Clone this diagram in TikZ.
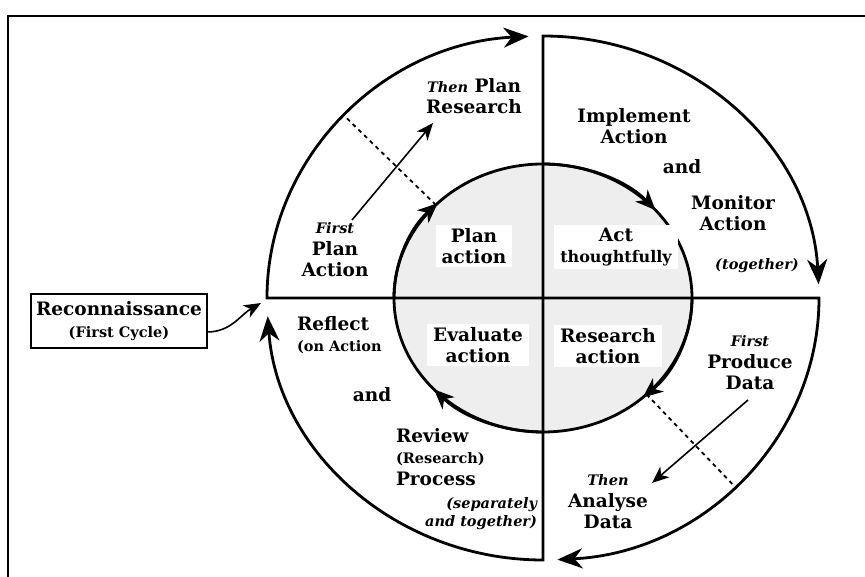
\documentclass[tikz,border=0pt]{standalone}
\usepackage{fontspec}
\setmainfont{DejaVu Serif}
\usetikzlibrary{arrows.meta,calc}
\definecolor{innerfill}{RGB}{238,238,238}
\newcommand{\bigf}{\fontsize{18.5}{21.5}\selectfont\bfseries}
\newcommand{\midf}{\fontsize{16}{19}\selectfont\bfseries}
\newcommand{\smallf}{\fontsize{14.5}{18}\selectfont\bfseries}
\def\rxo{276pt}
\def\ryo{262pt}
\def\rxi{149pt}
\def\ryi{134pt}
\tikzset{
    every node/.style = {
        inner sep = 0pt,
        outer sep = 0pt
    },
    lbl/.style = {
        align = center,
        font = \bigf
    },
    inlbl/.style = {
        lbl,
        fill = white,
        inner xsep = 6pt,
        inner ysep = 3pt
    },
    note/.style = {
        align = center,
        font = \smallf\itshape
    },
    reconbox/.style = {
        draw,
        line width = 1.3pt,
        align = center,
        font = \bigf,
        minimum width = 176pt,
        minimum height = 54pt
    },
    quarter/.style = {
        line width = 2.8pt,
        -{Stealth[length=25pt, width=20pt, inset=8pt]}
    },
    ring/.style = {
        line width = 2.8pt
    },
    ring arrow/.style = {
        line width = 2.8pt,
        -{Stealth[length=20pt, width=17pt, inset=6pt]}
    },
    trace/.style = {
        line width = 1.6pt,
        -{Stealth[length=17pt, width=14pt, inset=5pt]}
    },
    link/.style = {
        line width = 1.8pt,
        dash pattern = on 4pt off 4pt
    }
}

\begin{document}
\begin{tikzpicture}[x = 1pt, y = 1pt]
    \useasboundingbox (0,0) rectangle (865,577);
    \draw[line width = 1.2pt] (8,-10) -- (8,561) -- (880,561);
    \coordinate (C) at (543,279);
    \fill[innerfill] (C) ellipse [x radius = \rxi, y radius = \ryi];
    \draw[quarter] (C) -- ++(-\rxo,0) arc [start angle = 180, end angle = 93, x radius = \rxo, y radius = \ryo];
    \draw[quarter] (C) -- ++(0,\ryo) arc [start angle = 90, end angle = 3, x radius = \rxo, y radius = \ryo];
    \draw[quarter] (C) -- ++(\rxo,0) arc [start angle = 360, end angle = 273, x radius = \rxo, y radius = \ryo];
    \draw[quarter] (C) -- ++(0,-\ryo) arc [start angle = 270, end angle = 184, x radius = \rxo, y radius = \ryo];
    \draw[ring] (C) ellipse [x radius = \rxi, y radius = \ryi];
    \foreach \a/\b in {180/135, 90/41, 0/-48, 270/223}
        \draw[ring arrow] ($(C)+(\a:149pt and 134pt)$) arc [start angle = \a, end angle = \b, x radius = \rxi, y radius = \ryi];
    \coordinate (plan in) at ($(C)+(136:149pt and 134pt)$);
    \coordinate (plan out) at ($(C)+(136:276pt and 262pt)$);
    \coordinate (data in) at ($(C)+(-46:149pt and 134pt)$);
    \coordinate (data out) at ($(C)+(-46:276pt and 262pt)$);
    \draw[link] (plan in) -- (plan out);
    \draw[link] (data in) -- (data out);
    \node[inlbl] (plan) at (474,331) {Plan\\action};
    \node[inlbl] (act) at (616,330) {Act\\{\midf thoughtfully}};
    \node[inlbl] (evaluate) at (478,232) {Evaluate\\action};
    \node[inlbl] (research) at (608,231) {Research\\action};
    \node[lbl] (thenplan) at (474,481) {{\smallf\itshape Then} Plan\\Research};
    \node[lbl] (firstplan) at (335,327) {{\smallf\itshape First}\\Plan\\Action};
    \node[lbl] (implement) at (634,451) {Implement\\Action};
    \node[lbl] (and top) at (682,410) {and};
    \node[lbl] (monitor) at (733,364) {Monitor\\Action};
    \node[note] (together) at (757,311) {(together)};
    \node[reconbox] (recon) at (119,256) {Reconnaissance\\{\smallf (First Cycle)}};
    \node[lbl, align = left, anchor = west] (reflect) at (297,242) {Reflect\\{\smallf (on Action}};
    \node[lbl] (and low) at (372,182) {and};
    \node[lbl, align = left, anchor = west] (review) at (396,120) {Review\\{\smallf (Research)}\\Process};
    \node[note, align = right, anchor = east] (separately) at (537,63) {(separately\\and together)};
    \node[lbl] (firstprod) at (750,214) {{\smallf\itshape First}\\Produce\\Data};
    \node[lbl] (thenanal) at (608,75) {{\smallf\itshape Then}\\Analyse\\Data};
    \coordinate (plan tail) at (352,357);
    \coordinate (plan head) at (433,454);
    \coordinate (data tail) at (748,177);
    \coordinate (data head) at (652,94);
    \coordinate (recon head) at (261,274);
    \draw[trace] (plan tail) -- (plan head);
    \draw[trace] (data tail) -- (data head);
    \draw[trace] ([yshift = -11pt]recon.east) to[out = 0, in = 210] (recon head);
\end{tikzpicture}
\end{document}
